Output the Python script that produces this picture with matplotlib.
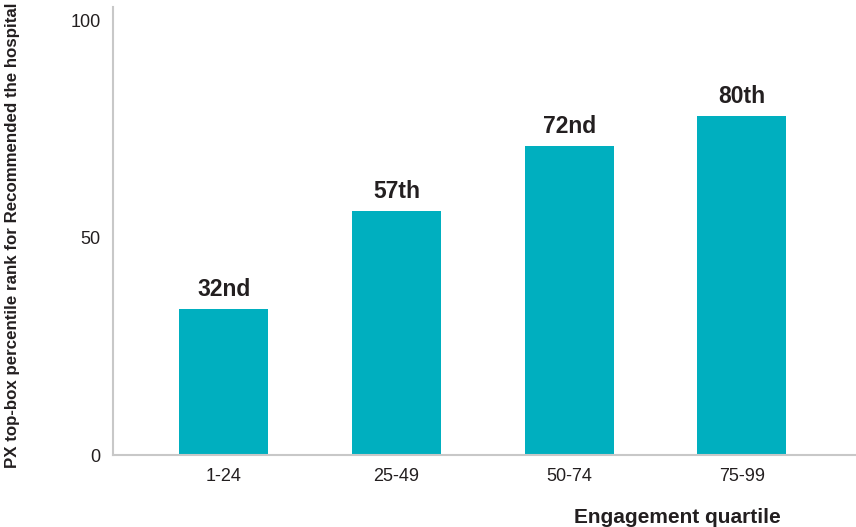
import matplotlib.pyplot as plt

plt.rcParams['font.family'] = ['Liberation Sans', 'DejaVu Sans']

# data
quartiles = ['1-24', '25-49', '50-74', '75-99']
ranks = [33.6, 56.1, 71.0, 77.9]
rank_labels = ['32nd', '57th', '72nd', '80th']

bar_color = '#00afbf'
text_color = '#231f20'
axis_color = '#c8c8c8'

fig = plt.figure(figsize=(8.56, 5.27), dpi=100)
ax = fig.add_axes([0.132, 0.1366, 0.868, 0.85])

x = range(len(quartiles))
bars = ax.bar(x, ranks, width=0.515, color=bar_color)

# rank labels above bars
for bar, lab in zip(bars, rank_labels):
    ax.annotate(lab, (bar.get_x() + bar.get_width() / 2, bar.get_height()),
                xytext=(0, 6), textcoords='offset points', ha='center', va='bottom',
                fontsize=16.5, fontweight='bold', color=text_color)

ax.set_xlim(-0.64, 3.66)
ax.set_ylim(0, 103)
ax.set_yticks([0, 50, 100])
ax.set_xticks(list(x))
ax.set_xticklabels(quartiles)
ax.tick_params(axis='both', length=0, labelsize=13, labelcolor=text_color)
ax.tick_params(axis='y', pad=9)
ax.tick_params(axis='x', pad=9)

for side in ['top', 'right']:
    ax.spines[side].set_visible(False)
for side in ['left', 'bottom']:
    ax.spines[side].set_color(axis_color)
    ax.spines[side].set_linewidth(1.5)

fig.text(0.015, 0.554, 'PX top-box percentile rank for Recommended the hospital',
         rotation=90, ha='center', va='center', fontsize=12.2, fontweight='bold',
         color=text_color)
fig.text(0.791, 0.018, 'Engagement quartile', ha='center', va='center',
         fontsize=15, fontweight='bold', color=text_color)

fig.savefig('out.png', dpi=100)
